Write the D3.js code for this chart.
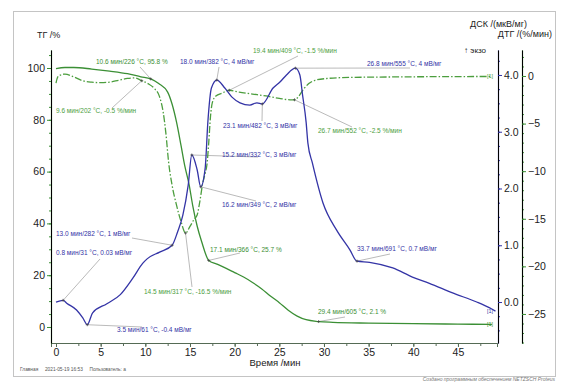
<!DOCTYPE html>
<html>
  <head>
    <meta charset="utf-8">
    <title></title>
    <script src="https://d3js.org/d3.v7.min.js"></script>
  </head>
  <style>
    body { margin: 0; background: #fff; }
    text { font-family: "Liberation Sans", Arial, sans-serif; }
  </style>
  <body>
  <svg width="568" height="392"></svg>
  <script>

  // TG, %
  var tgTime = [0, 1, 2, 4, 6, 8, 9.5, 10.6, 11.5, 12.5, 13, 13.5, 14, 14.4, 14.9, 15.3, 15.8, 16.3, 17.1, 18, 19, 20, 21, 22, 23, 24, 25, 26, 27, 28, 29.4, 31, 35, 40, 45, 48.8];
  var tgVal  = [99.8, 100.2, 100.2, 99.6, 98.8, 97.8, 96.6, 95.8, 94, 90.7, 86, 79, 70, 62.5, 55, 47, 39, 33, 25.7, 24.3, 22.7, 21, 19.3, 17.2, 14.8, 12, 9.4, 6.5, 4.2, 2.8, 2.1, 1.8, 1.5, 1.3, 1.1, 1.0];

  // DTG, %/min
  var dtgTime = [0, 0.2, 0.5, 1, 2, 3, 4, 5, 6, 7, 8, 8.8, 9.6, 10.3, 11, 11.6, 12, 12.3, 12.6, 13, 13.5, 14, 14.5, 15, 15.5, 15.8, 16.1, 16.4, 16.7, 16.9, 17.1, 17.3, 17.5, 17.9, 18.6, 19.4, 20.5, 22, 23.5, 25, 26.2, 26.7, 27.2, 27.7, 28.3, 29, 30.5, 33, 38, 48.8];
  var dtgVal  = [-0.75, -0.1, 0.1, 0.2, -0.1, -0.5, -0.65, -0.7, -0.65, -0.45, -0.25, -0.2, -0.5, -0.8, -1.3, -2.2, -3.8, -6, -9, -11.5, -13.6, -15.3, -16.5, -15.8, -15, -14.6, -13.2, -11.4, -10.2, -9.3, -7, -4.2, -2.8, -2.1, -1.8, -1.5, -1.7, -1.9, -2.1, -2.35, -2.5, -2.5, -2.1, -1.4, -0.8, -0.45, -0.25, -0.15, -0.1, -0.05];

  // DSC, mW/mg
  var dscTime = [0, 0.8, 1.2, 2.3, 3, 3.5, 4.1, 5.7, 7.2, 8.6, 9.7, 10.2, 11.6, 13, 13.6, 14.2, 14.8, 15.2, 15.8, 16.2, 16.7, 17, 17.4, 18, 18.9, 19.7, 20.6, 21.7, 22.5, 23.1, 24.3, 25.1, 25.8, 26.8, 27.3, 27.6, 28, 28.2, 28.7, 29.9, 31.4, 32.9, 33.7, 35.1, 37.7, 39.9, 41.8, 44.4, 47.1, 48.5, 49.2];
  var dscVal  = [0, 0.03, -0.02, -0.14, -0.28, -0.4, -0.19, -0.03, 0.13, 0.42, 0.68, 0.76, 0.88, 1.0, 1.23, 1.53, 2.06, 2.59, 2.33, 2.03, 2.36, 3.17, 3.77, 3.91, 3.77, 3.61, 3.51, 3.47, 3.51, 3.49, 3.77, 3.88, 4.0, 4.12, 4.0, 3.65, 3.17, 2.8, 2.45, 1.74, 1.27, 0.92, 0.72, 0.7, 0.6, 0.44, 0.33, 0.16, 0.0, -0.1, -0.16];

  // annotations: series, time, value, text
  var annSeries = ["tg", "dtg", "dsc", "dtg", "dsc", "dsc", "dtg", "dsc", "dsc", "dsc", "dsc", "dtg", "dsc", "tg", "dsc", "tg"];
  var annTime   = [10.6, 9.6, 18.0, 19.4, 26.8, 23.1, 26.7, 15.2, 16.2, 13.0, 0.8, 14.5, 3.5, 17.1, 33.7, 29.4];
  var annValue  = [95.8, -0.5, 3.91, -1.5, 4.12, 3.49, -2.5, 2.59, 2.03, 1.0, 0.03, -16.5, -0.4, 25.7, 0.72, 2.1];
  var annText   = [
    "10.6 мин/226 °C, 95.8 %",
    "9.6 мин/202 °C, -0.5 %/мин",
    "18.0 мин/382 °C, 4 мВ/мг",
    "19.4 мин/409 °C, -1.5 %/мин",
    "26.8 мин/555 °C, 4 мВ/мг",
    "23.1 мин/482 °C, 3 мВ/мг",
    "26.7 мин/552 °C, -2.5 %/мин",
    "15.2 мин/332 °C, 3 мВ/мг",
    "16.2 мин/349 °C, 2 мВ/мг",
    "13.0 мин/282 °C, 1 мВ/мг",
    "0.8 мин/31 °C, 0.03 мВ/мг",
    "14.5 мин/317 °C, -16.5 %/мин",
    "3.5 мин/61 °C, -0.4 мВ/мг",
    "17.1 мин/366 °C, 25.7 %",
    "33.7 мин/691 °C, 0.7 мВ/мг",
    "29.4 мин/605 °C, 2.1 %"
  ];

  var xTicks   = [0, 5, 10, 15, 20, 25, 30, 35, 40, 45];
  var tgTicks  = [0, 20, 40, 60, 80, 100];
  var dscTicks = [0, 1, 2, 3, 4];
  var dtgTicks = [0, -5, -10, -15, -20, -25];

  var green = "#3b8f35", green2 = "#4c9e3e", blue = "#3434a6";

  var svg = d3.select("svg");

  // frame
  svg.append("rect").attr("x", 13.5).attr("y", 11.5).attr("width", 542).attr("height", 365)
     .attr("fill", "none").attr("stroke", "#c4c4c4");

  var x = d3.scaleLinear().domain([-0.56, 49.37]).range([51, 497]);
  var yTg = d3.scaleLinear().domain([-6.18, 106.95]).range([343, 50]);
  var yDsc = d3.scaleLinear().domain([-0.722, 4.44]).range([343, 50]);
  var yDtg = d3.scaleLinear().domain([-28.05, 2.73]).range([343, 50]);

  function styleAxis(g, color) {
    g.select(".domain").attr("stroke", color).attr("stroke-width", 1.2);
    g.selectAll(".tick line").attr("stroke", color);
    g.selectAll("text").attr("fill", "#222").style("font-size", "10.5px")
      .style("font-family", "'Liberation Sans', Arial, sans-serif");
  }

  // bottom axis
  var gx = svg.append("g").attr("transform", "translate(0,343)")
    .call(d3.axisBottom(x).tickValues(d3.range(0, 49, 2.5)).tickSize(3).tickSizeOuter(0).tickFormat(""));
  gx.append("g").call(d3.axisBottom(x).tickValues(xTicks).tickSize(4).tickPadding(2));
  gx.selectAll(".domain").attr("stroke", "#556b55");
  gx.selectAll(".tick line").attr("stroke", "#556b55");
  gx.selectAll("text").attr("fill", "#222").style("font-size", "10.5px");

  // TG axis (left)
  var gl = svg.append("g").attr("transform", "translate(51,0)")
    .call(d3.axisLeft(yTg).tickValues(d3.range(0, 106, 5)).tickSize(2).tickSizeOuter(0).tickFormat(""));
  gl.append("g").call(d3.axisLeft(yTg).tickValues(tgTicks).tickSize(4).tickSizeOuter(0).tickPadding(2));
  styleAxis(gl, green);

  // DSC axis
  var gd = svg.append("g").attr("transform", "translate(498,0)")
    .call(d3.axisRight(yDsc).tickValues(d3.range(-0.5, 4.4, 0.25)).tickSize(2).tickSizeOuter(0).tickFormat(""));
  gd.append("g").call(d3.axisRight(yDsc).tickValues(dscTicks).tickSize(4).tickSizeOuter(0).tickPadding(2));
  styleAxis(gd, blue);

  // DTG axis
  var gt = svg.append("g").attr("transform", "translate(522,0)")
    .call(d3.axisRight(yDtg).tickValues(d3.range(-28, 3, 1)).tickSize(2).tickSizeOuter(0).tickFormat(""));
  gt.append("g").call(d3.axisRight(yDtg).tickValues(dtgTicks).tickSize(4).tickSizeOuter(0).tickPadding(2));
  styleAxis(gt, green);

  // axis titles
  svg.append("text").attr("x", 37).attr("y", 38).text("ТГ /%").style("font-size", "9px").attr("fill", "#222");
  svg.append("text").attr("x", 527).attr("y", 27).attr("text-anchor", "end").text("ДСК /(мкВ/мг)").style("font-size", "9px").attr("fill", "#222");
  svg.append("text").attr("x", 552).attr("y", 37).attr("text-anchor", "end").text("ДТГ /(%/мин)").style("font-size", "9px").attr("fill", "#222");
  svg.append("text").attr("x", 486).attr("y", 53).attr("text-anchor", "end").text("↑ экзо").style("font-size", "8px").attr("fill", "#222");
  svg.append("text").attr("x", 275).attr("y", 366).attr("text-anchor", "middle").text("Время /мин").style("font-size", "9.5px").attr("fill", "#222");

  // footer
  svg.append("text").attr("x", 20).attr("y", 371).text("Главная     2021-05-19 16:53     Пользователь: a")
     .style("font-size", "4.8px").attr("fill", "#555").attr("xml:space", "preserve").style("white-space", "pre");
  svg.append("text").attr("x", 555).attr("y", 381).attr("text-anchor", "end").text("Создано программным обеспечением NETZSCH Proteus")
     .style("font-size", "5px").style("font-style", "italic").attr("fill", "#777");

  function pts(t, v) { return t.map(function(d, i) { return [d, v[i]]; }); }

  var scales = { tg: yTg, dtg: yDtg, dsc: yDsc };
  var colors = { tg: green, dtg: green2, dsc: blue };

  function line(ys) {
    return d3.line().x(function(d) { return x(d[0]); }).y(function(d) { return ys(d[1]); }).curve(d3.curveMonotoneX);
  }

  // leader lines and labels; [text x, text baseline, leader end x, leader end y]
  var annLayout = [
    [96, 64, 140, 67], [56, 113, 112, 108], [180, 64, 219, 67], [253, 53, 298, 56],
    [367, 66, 410, 68], [223, 128, 262, 121], [318, 133, 352, 127], [222, 157, 258, 157],
    [222, 207, 256, 201], [56, 236, 132, 238], [56, 255, 100, 259], [144, 294, 192, 287],
    [117, 332, 142, 327], [210, 252, 240, 253], [357, 251, 390, 254], [318, 314, 345, 317]
  ];

  annText.forEach(function(txt, i) {
    var s = annSeries[i], px = x(annTime[i]), py = scales[s](annValue[i]), L = annLayout[i];
    svg.append("line").attr("x1", px).attr("y1", py).attr("x2", L[2]).attr("y2", L[3])
       .attr("stroke", "#a8a8a8").attr("stroke-width", 0.8);
  });

  svg.append("path").datum(pts(tgTime, tgVal)).attr("d", line(yTg))
     .attr("fill", "none").attr("stroke", green).attr("stroke-width", 1.3);
  svg.append("path").datum(pts(dtgTime, dtgVal)).attr("d", line(yDtg))
     .attr("fill", "none").attr("stroke", green2).attr("stroke-width", 1.3).attr("stroke-dasharray", "7,2,1.5,2");
  svg.append("path").datum(pts(dscTime, dscVal)).attr("d", line(yDsc))
     .attr("fill", "none").attr("stroke", blue).attr("stroke-width", 1.3);

  annText.forEach(function(txt, i) {
    var s = annSeries[i], px = x(annTime[i]), py = scales[s](annValue[i]), L = annLayout[i];
    svg.append("path").attr("d", "M" + (px - 1.5) + "," + py + "h3M" + px + "," + (py - 1.5) + "v3")
       .attr("stroke", "#444").attr("stroke-width", 0.7);
    svg.append("text").attr("x", L[0]).attr("y", L[1]).text(txt)
       .style("font-size", "6.5px").attr("fill", colors[s]);
  });

  // curve ids at the end of each curve
  [["tg", tgVal[tgVal.length - 1]], ["dtg", dtgVal[dtgVal.length - 1]], ["dsc", dscVal[dscVal.length - 1]]].forEach(function(d) {
    svg.append("text").attr("x", 487).attr("y", scales[d[0]](d[1]) + 2).text("[1]")
       .style("font-size", "5.5px").attr("fill", colors[d[0]]);
  });

  </script>
  </body>
</html>
